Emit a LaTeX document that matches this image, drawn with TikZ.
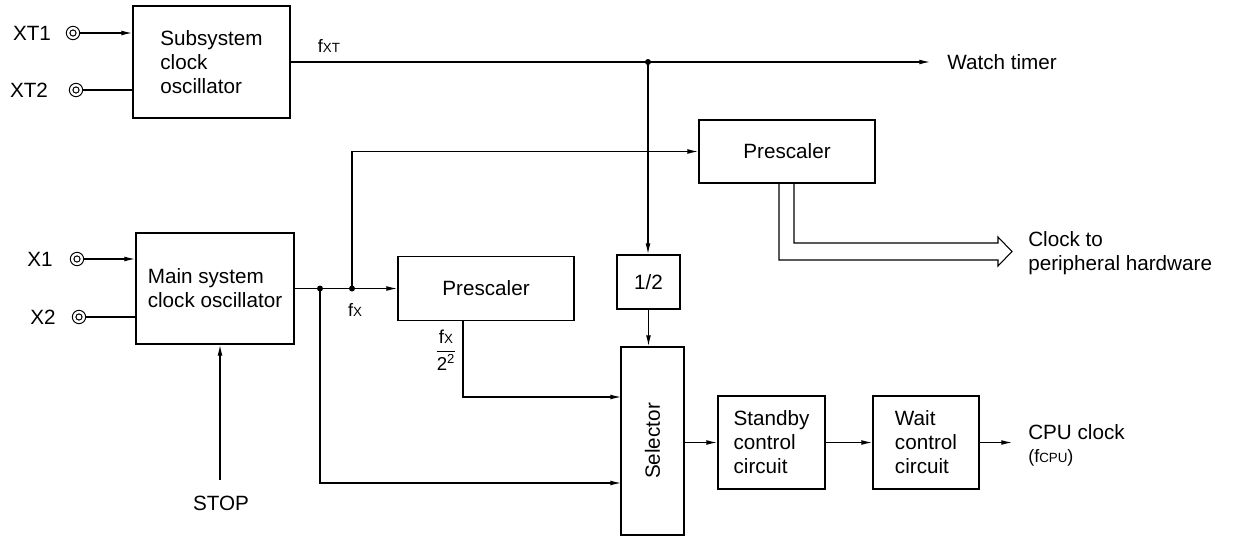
\documentclass[tikz,border=0pt]{standalone}
\usepackage{fontspec}
\setmainfont{Liberation Sans}
\usetikzlibrary{arrows.meta}
\begin{document}
\begin{tikzpicture}[x=0.75pt,y=-0.75pt,
  box/.style={draw,line width=1.4pt,inner sep=0pt,align=left,font=\fontsize{15.5}{18}\selectfont},
  lbl/.style={inner sep=0pt,font=\fontsize{15.5}{17.5}\selectfont},
  con/.style={line width=0.8pt},
  arr/.style={con,-{Latex[length=8pt,width=3.6pt]}},
  term/.style={circle,draw,line width=0.75pt,minimum size=10pt,inner sep=0pt,
    path picture={\draw[line width=0.75pt] (path picture bounding box.center) circle (2.3pt);}},
  dot/.style={circle,fill,inner sep=0pt,minimum size=4.5pt}
]
\useasboundingbox (0,0) rectangle (1233,539);

% blocks
\node[box,minimum width=117.75pt,minimum height=84pt] (sub) at (211.5,62) {Subsystem\\clock\\oscillator};
\node[box,minimum width=118.5pt,minimum height=83.25pt] (main) at (215,288.5) {Main system\\clock oscillator};
\node[box,minimum width=132pt,minimum height=47.25pt,align=center] (pre1) at (787,151.5) {Prescaler};
\node[box,minimum width=132pt,minimum height=48pt,align=center] (pre2) at (486,288.5) {Prescaler};
\node[box,minimum width=47.25pt,minimum height=40.5pt,align=center] (half) at (648.5,282) {1/2};
\node[box,minimum width=47.25pt,minimum height=141pt] (sel) at (652.5,441) {\rotatebox{90}{Selector}};
\node[box,minimum width=80.25pt,minimum height=69.75pt] (stby) at (771.5,442.5) {Standby\\control\\circuit};
\node[box,minimum width=79.5pt,minimum height=69.75pt] (wait) at (926,442.5) {Wait\\control\\circuit};

% terminals
\node[term] (txt1) at (73,33) {};
\node[term] (txt2) at (76,90) {};
\node[term] (tx1) at (77,259) {};
\node[term] (tx2) at (79,317) {};
\node[lbl] (lxt1) at (32,33) {XT1};
\node[lbl] (lxt2) at (29,90) {XT2};
\node[lbl] (lx1) at (40,259) {X1};
\node[lbl] (lx2) at (43,317) {X2};

\draw[arr] (txt1) -- (txt1 -| sub.west);
\draw[con] (txt2) -- (txt2 -| sub.west);
\draw[arr] (tx1) -- (tx1 -| main.west);
\draw[con] (tx2) -- (tx2 -| main.west);

% subsystem clock output
\node[dot] (d1) at (648,62) {};
\coordinate (wtin) at (930,62);
\draw[con] (sub.east) -- (d1.center);
\draw[arr] (d1.center) -- (wtin);
\node[lbl,anchor=west] (wt) at (947,62) {Watch timer};
\draw[arr] (d1.center) -- (d1.center |- half.north);
\draw[arr] (half.south) -- (half.south |- sel.north);
\node[inner sep=0pt] (lfxt) at (329,46) {\fontsize{13.5}{14}\selectfont f{\fontsize{10}{10}\selectfont XT}};

% main clock output
\node[dot] (d2) at (320,288.5) {};
\node[dot] (d3) at (352,288.5) {};
\draw[con] (main.east) -- (d2.center) -- (d3.center);
\draw[arr] (d3.center) -- (pre2.west);
\draw[arr] (d3.center) |- (pre1.west);
\node[inner sep=0pt] (lfx) at (355,310) {\fontsize{13.5}{14}\selectfont f{\fontsize{10}{10}\selectfont X}};

\coordinate (selin1) at (621,397);
\coordinate (selin2) at (621,483);
\coordinate (p2out) at (463,321);
\draw[arr] (p2out) |- (selin1);
\draw[arr] (d2.center) |- (selin2);
\node[inner sep=0pt] (lfrac) at (446,350) {\fontsize{14}{16}\selectfont
  $\displaystyle\frac{\mbox{f{\fontsize{10}{10}\selectfont X}}}{\mbox{\rule{0pt}{12.5pt}2\textsuperscript{2}}}$};

% STOP
\node[lbl] (stop) at (221,503) {STOP};
\coordinate (stopin) at (220,480);
\draw[arr] (stopin) -- (stopin |- main.south);

% chain to CPU
\draw[arr] (stby.west -| sel.east) -- (stby.west);
\draw[arr] (stby.east) -- (wait.west);
\coordinate (cpuin) at (1012,442.5);
\draw[arr] (wait.east) -- (cpuin);
\node[lbl,anchor=north west,align=left] (cpu) at (1028,424)
  {CPU clock\\{\fontsize{13.5}{15}\selectfont (f\raisebox{-0.3pt}{\fontsize{10}{10}\selectfont CPU})}};

% hollow arrow to peripheral hardware
\draw[con,line join=miter] (779,183) -- (779,260) -- (998,260) -- (998,266) -- (1012,251.5)
  -- (998,237) -- (998,243) -- (794,243) -- (794,183);
\node[lbl,anchor=west,align=left] (clk) at (1028,253) {Clock to\\peripheral hardware};
\end{tikzpicture}
\end{document}
